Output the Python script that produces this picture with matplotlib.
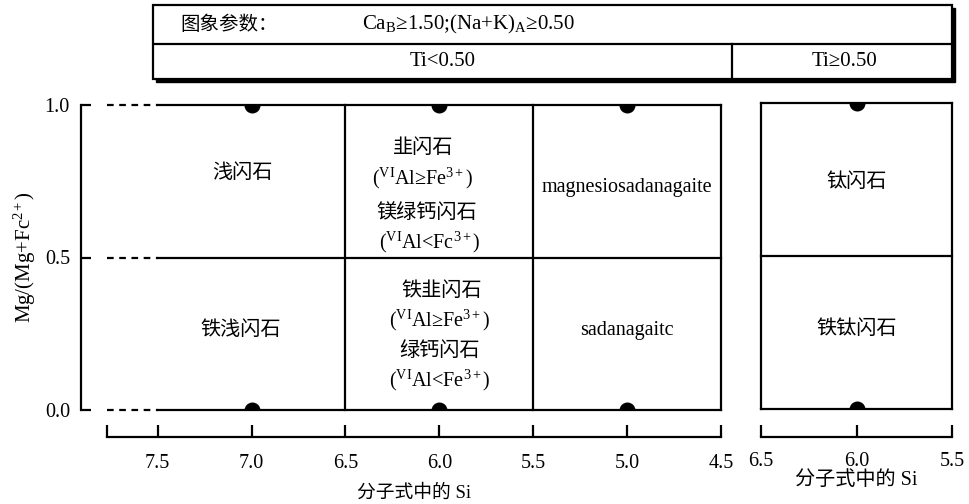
import matplotlib
matplotlib.use("Agg")
import matplotlib.pyplot as plt
from matplotlib.patches import Rectangle

plt.rcParams['font.family'] = ['Liberation Serif', 'Noto Sans CJK SC']
plt.rcParams['mathtext.fontset'] = 'custom'
plt.rcParams['mathtext.rm'] = 'Liberation Serif'
plt.rcParams['mathtext.it'] = 'Liberation Serif:italic'

# ---------------- data ----------------
si_ticks_left = [7.5, 7.0, 6.5, 6.0, 5.5, 5.0, 4.5]
si_ticks_right = [6.5, 6.0, 5.5]
mg_ticks = [0.0, 0.5, 1.0]
si_left_range = [7.77, 4.5]
si_box_start = 7.5
si_dividers_left = [6.5, 5.5, 4.5]
mg_dividers = [0.0, 0.5, 1.0]
si_right_range = [6.5, 5.5]
dot_si_left = [7.0, 6.0, 5.0]
dot_si_right = [6.0]
dot_mg = [0.0, 1.0]

labels_left = ["浅闪石", "铁浅闪石", "韭闪石", r"($^{\rm VI}$Al≥Fe$^{3+}$)", "镁绿钙闪石",
               r"($^{\rm VI}$Al<Fc$^{3+}$)", "铁韭闪石", r"($^{\rm VI}$Al≥Fe$^{3+}$)", "绿钙闪石",
               r"($^{\rm VI}$Al<Fe$^{3+}$)", "magnesiosadanagaite", "sadanagaitc"]
labels_right = ["钛闪石", "铁钛闪石"]
header_params = "图象参数："
header_formula = r"Ca$_{\rm B}$≥1.50;(Na+K)$_{\rm A}$≥0.50"
header_ti = ["Ti<0.50", "Ti≥0.50"]
ylabel = r"Mg/(Mg+Fc$^{2+}$)"
xlabel = "分子式中的 Si"

# ---------------- figure ----------------
W, H = 970, 504
fig = plt.figure(figsize=(W / 100, H / 100), dpi=100)

def fx(px):
    return px / W

def fy(py):
    return 1 - py / H

LW = 1.6
FS = 14.5

# Left panel
axL = fig.add_axes([fx(107), fy(410), fx(721) - fx(107), fy(105) - fy(410)])
axL.set_xlim(si_left_range[0], si_left_range[1])
axL.set_ylim(0, 1)
for s in ['top', 'right']:
    axL.spines[s].set_visible(False)
axL.spines['bottom'].set_position(('outward', 27 * 0.72))
axL.spines['left'].set_position(('outward', 26 * 0.72))
axL.spines['bottom'].set_linewidth(LW)
axL.spines['left'].set_linewidth(LW)
axL.spines['left'].set_bounds(0, 1)
axL.set_xticks([si_left_range[0]] + si_ticks_left)
axL.set_xticklabels([""] + [f"{v:.1f}" for v in si_ticks_left])
axL.set_yticks(mg_ticks)
axL.set_yticklabels([f"{v:.1f}" for v in mg_ticks])
axL.tick_params(axis='x', direction='in', length=9, width=LW, pad=12, labelsize=FS)
axL.tick_params(axis='y', direction='in', length=7, width=LW, pad=8, labelsize=FS)
axL.patch.set_visible(False)

for m in mg_dividers:
    axL.plot([si_left_range[0], si_box_start], [m, m], color='black', lw=LW,
             linestyle=(0, (3, 2.5)), clip_on=False)
    axL.plot([si_box_start, si_left_range[1]], [m, m], color='black', lw=LW, clip_on=False)
for s in si_dividers_left:
    axL.plot([s, s], [0, 1], color='black', lw=LW, clip_on=False)
for s in dot_si_left:
    for m in dot_mg:
        axL.plot([s], [m], 'o', color='black', ms=10.5, clip_on=True)

axL.set_ylabel(ylabel, fontsize=15, labelpad=5)
axL.set_xlabel(xlabel, fontsize=13.5, labelpad=8)

left_pos = [(7.05, 0.774), (7.06, 0.262), (6.085, 0.859), (6.09, 0.761), (6.07, 0.643),
            (6.05, 0.551), (5.99, 0.39), (6.0, 0.295), (6.0, 0.193), (6.0, 0.098),
            (5.0, 0.728), (5.0, 0.262)]
for t, (x, y) in zip(labels_left, left_pos):
    axL.text(x, y, t, ha='center', va='center', fontsize=FS)

# Right panel
axR = fig.add_axes([fx(761), fy(409), fx(952) - fx(761), fy(103) - fy(409)])
axR.set_xlim(si_right_range[0], si_right_range[1])
axR.set_ylim(0, 1)
for s in ['top', 'right', 'left']:
    axR.spines[s].set_visible(False)
axR.spines['bottom'].set_position(('outward', 28 * 0.72))
axR.spines['bottom'].set_linewidth(LW)
axR.set_xticks(si_ticks_right)
axR.set_xticklabels([f"{v:.1f}" for v in si_ticks_right])
axR.set_yticks([])
axR.tick_params(axis='x', direction='in', length=9, width=LW, pad=11, labelsize=FS)
axR.patch.set_visible(False)
for m in mg_dividers:
    axR.plot(si_right_range, [m, m], color='black', lw=LW, clip_on=False)
for s in si_right_range:
    axR.plot([s, s], [0, 1], color='black', lw=LW, clip_on=False)
for s in dot_si_right:
    for m in dot_mg:
        axR.plot([s], [m], 'o', color='black', ms=10.5, clip_on=True)
axR.set_xlabel(xlabel, fontsize=14.5, labelpad=0)
right_pos = [(6.0, 0.739), (6.0, 0.261)]
for t, (x, y) in zip(labels_right, right_pos):
    axR.text(x, y, t, ha='center', va='center', fontsize=FS)

# Header table
axH = fig.add_axes([fx(153), fy(79), fx(952) - fx(153), fy(5) - fy(79)])
axH.set_xlim(0, 1)
axH.set_ylim(0, 1)
axH.axis('off')
axH.add_patch(Rectangle((0.004, -0.04), 1, 1, transform=axH.transAxes,
                        facecolor='black', edgecolor='black', clip_on=False))
axH.add_patch(Rectangle((0, 0), 1, 1, transform=axH.transAxes,
                        facecolor='white', edgecolor='black', lw=LW, clip_on=False))
axH.plot([0, 1], [0.473, 0.473], color='black', lw=LW)
axH.plot([0.725, 0.725], [0, 0.473], color='black', lw=LW)
axH.text(0.034, 0.73, header_params, ha='left', va='center', fontsize=14)
axH.text(0.262, 0.73, header_formula, ha='left', va='center', fontsize=15)
axH.text(0.362, 0.23, header_ti[0], ha='center', va='center', fontsize=15)
axH.text(0.866, 0.23, header_ti[1], ha='center', va='center', fontsize=15)

fig.savefig("out.png", dpi=100)
